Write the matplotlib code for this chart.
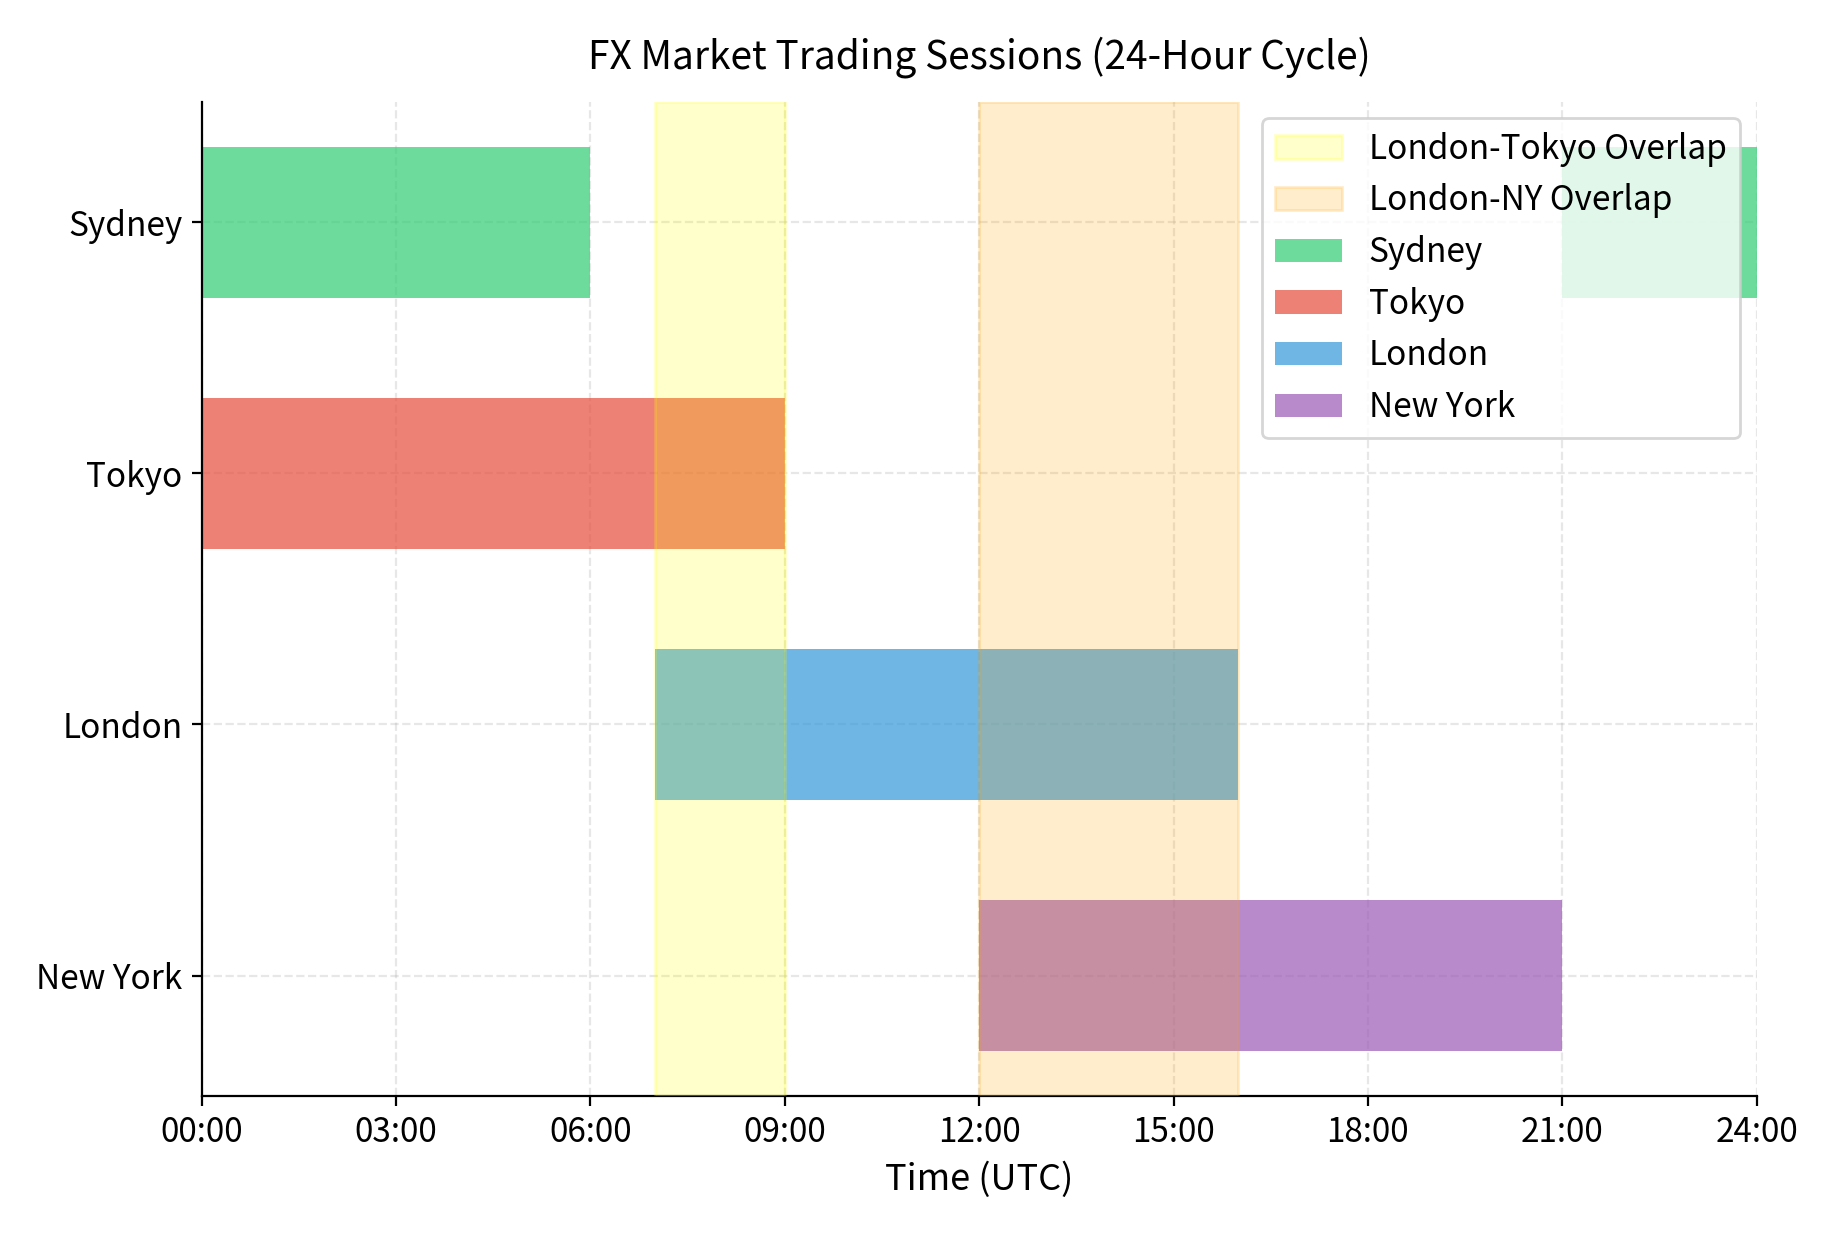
import matplotlib
matplotlib.use("Agg")
import matplotlib.pyplot as plt

plt.rcParams['font.family'] = ['Noto Sans CJK KR', 'DejaVu Sans']
plt.rcParams['font.size'] = 12

sessions = ["Sydney", "Tokyo", "London", "New York"]
starts = [[21, 0], [0], [7], [12]]
ends = [[24, 6], [9], [16], [21]]
colors = ["#2ecc71", "#e74c3c", "#3498db", "#9b59b6"]
overlaps = [("London-Tokyo Overlap", 7, 9, "yellow"), ("London-NY Overlap", 12, 16, "orange")]
xticks = list(range(0, 25, 3))
xticklabels = [f"{h:02d}:00" for h in xticks]

fig, ax = plt.subplots(figsize=(9.17, 6.17), dpi=200)
for lab, s, e, c in overlaps:
    ax.axvspan(s, e, color=c, alpha=0.2, label=lab, zorder=3)
ypos = [3, 2, 1, 0]
for name, st, en, c, y in zip(sessions, starts, ends, colors, ypos):
    for i, (s, e) in enumerate(zip(st, en)):
        ax.barh(y, e - s, left=s, height=0.6, color=c, alpha=0.7,
                label=name if i == 0 else None, zorder=2)
ax.set_yticks(ypos)
ax.set_yticklabels(sessions)
ax.set_xticks(xticks)
ax.set_xticklabels(xticklabels)
ax.set_xlim(0, 24)
ax.set_xlabel("Time (UTC)", fontsize=13)
ax.set_title("FX Market Trading Sessions (24-Hour Cycle)", fontsize=14, pad=12)
ax.grid(True, linestyle="--", alpha=0.3)
ax.spines["top"].set_visible(False)
ax.spines["right"].set_visible(False)
ax.legend(loc="upper right", fontsize=12)
fig.tight_layout()
fig.savefig("out.png")
